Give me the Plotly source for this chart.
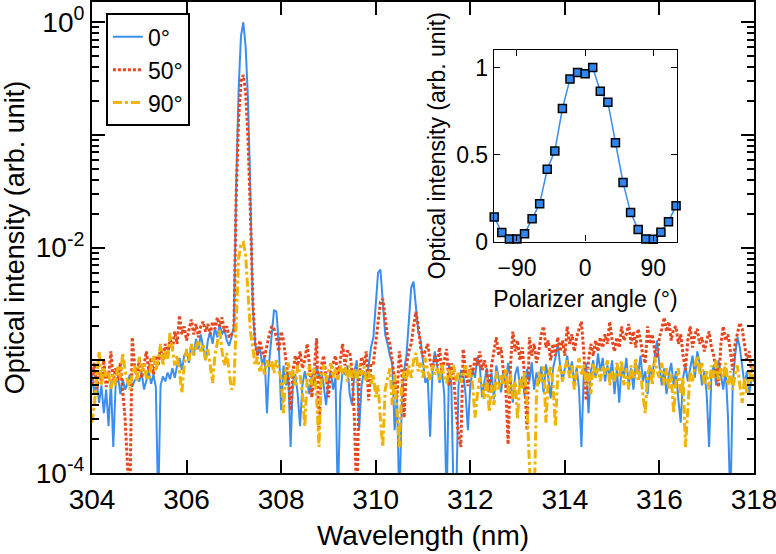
import plotly.graph_objects as go

# ---------------- data ----------------
# Spectra sampled every 0.05 nm from 304 to 318 nm; intensities given in units of 1e-4 (arb. unit)
WL_START, WL_STEP, N_PTS = 304.0, 0.05, 281
wavelength = [round(WL_START + WL_STEP * i, 2) for i in range(N_PTS)]
UNIT = 1e-4

blue_0deg = [
    7.5, 5.0, 6.5, 4.2, 6.0, 3.4, 5.5, 2.6, 6.5, 1.7, 6.0, 7.2, 5.0, 6.8, 5.5, 6.2, 7.5, 5.8, 6.6, 7.0,
    6.5, 7.8, 5.5, 6.8, 8.0, 6.2, 7.5, 5.8, 0.5, 6.0, 7.2, 6.5, 7.8, 6.8, 8.5, 7.0, 9.0, 10.5, 8.2, 11.0,
    12.0, 9.5, 14.0, 11.0, 15.5, 12.5, 17.0, 13.0, 10.0, 15.0, 18.0, 14.0, 19.5, 16.0, 21.0, 17.0, 19.0, 15.0, 13.5, 16.0,
    20, 350, 2500, 7500, 10000, 6000, 2000, 300, 30,
    14, 11, 13, 9, 11, 3.4, 10, 16, 28, 27, 14, 3.6, 9, 6, 8, 1.7, 6.5, 7.5, 5, 2.6, 6, 8, 6.5, 5, 7.5, 6,
    9, 7, 8, 6, 4, 6.5, 8, 5.5, 7, 0.5, 5, 8, 7.5, 9, 5, 4,
    8, 10, 2.4, 6, 8, 6.7, 9, 13, 16, 32, 60, 64, 35, 17, 14, 11, 9.4, 2.4, 5, 0.5, 4, 8.2, 11, 20, 44, 50,
    32, 18, 15, 9, 6.3, 7, 2.1, 8, 12, 9, 6.3, 8, 5, 0.5, 9.4, 6, 0.5, 0.5, 6, 8, 7.7, 5, 2.4, 6, 8.2, 7,
    10.7, 9, 4.7,
    6.5, 8.5, 5.5, 7.8, 4.5, 9, 7, 5.2, 8, 6, 9.5, 6.8, 4.2, 7.5, 8.8, 5.8, 7.2, 4.8, 8.4, 6.5, 9.6, 5.5,
    7.8, 6.2, 8.8, 5.2, 9.2, 7, 4.6, 8.5, 10.5, 14, 9, 6.5, 8.5, 11, 7.5, 9.8, 6, 8.8, 5.5, 1.7, 7.5, 9.5,
    3.4, 8, 10, 7, 11.5, 8, 10.5, 6.5, 9, 7.2, 10,
    5, 8.5, 4.2, 9, 7, 10.5, 6, 8.5, 5.5, 9.5, 7.5, 11, 6.5, 8, 5, 9, 7, 11, 15, 9, 6, 8.5, 5, 7.5, 9.5,
    6, 8, 4.5, 2.8, 7, 9, 6.5, 8.5, 11, 7, 12, 9.5, 6, 8, 5, 1.7, 7.5, 9, 6, 10, 7.5, 5.5, 8.5, 3.1, 0.5,
    6, 11, 16, 13, 9, 6, 8, 5, 7, 6.5,
]

red_50deg = [
    6, 9.5, 5.5, 8, 6.5, 10, 5.8, 7.1, 12, 6.5, 8.5, 6.7, 9.5, 5, 3, 1.2, 0.5, 16, 9, 7.5,
    10, 7, 9.4, 12, 8, 10.5, 7.5, 11, 9, 13, 10, 14, 11, 16, 12.5, 18, 14, 25, 17, 20,
    15, 19, 23, 17, 21, 16, 20, 22, 18, 21, 17, 22, 19, 24, 20, 24, 18, 20, 16, 17,
    18, 300, 1400, 3000, 3400, 2400, 900, 200, 35,
    14, 11, 15, 12, 10.7, 14, 17, 20, 19, 16, 12, 18, 15, 10, 7, 3.6, 8, 11, 9, 12, 8.5, 10, 14, 9, 4.7,
    8, 15.7, 2.4, 9, 11, 7, 4.7, 8, 9.4, 11, 7, 10, 14, 9, 12, 12, 8,
    3, 0.5, 7, 10.7, 9, 12, 4.4, 9.4, 9.4, 14, 20, 33, 35, 22, 16, 14, 10, 7, 4.7, 12, 8, 3.1, 9, 12, 14,
    20, 27, 20, 13, 10.7, 12, 14, 10, 8.2, 11, 9, 13, 8, 10, 12.6, 5.9, 9.4, 7, 3.5, 2.2, 1.7, 12.6, 8,
    5.9, 9, 7.5, 10.7, 9, 12, 8.2,
    10, 8, 5.1, 9, 12, 16, 11, 13, 8, 6, 1.8, 9, 18, 12, 15, 10, 13, 7, 2.4, 16, 11, 14, 9.5, 12, 17,
    20, 13, 15, 10, 14, 11, 16, 12, 15, 11, 20, 14, 17, 12, 16, 19, 22, 12, 4.4, 10, 14, 11, 15, 12, 16,
    13, 17, 14, 22, 15,
    12, 16, 13, 20, 15, 17, 21, 14, 18, 13, 19, 15, 11, 9.4, 20, 14, 17, 12, 10.5, 16, 19, 24, 18, 22, 15,
    19, 20, 14, 17, 11, 8.2, 15, 20, 13, 17, 19, 14, 16, 12, 15, 18, 13, 11, 8, 5.8, 14, 20, 15, 17, 12,
    8.2, 14, 18, 21.5, 19, 13, 10, 12, 7.7, 9,
]

yellow_90deg = [
    2.8, 4, 7, 12, 6, 8.8, 7, 8, 5.5, 7.5, 6, 9, 7, 11.6, 8, 6.5, 5.5, 7.5, 9, 6.5,
    10.7, 8, 9.5, 7, 6.7, 9, 11, 8, 10, 14, 9, 12, 10, 17.5, 13, 9, 11, 8, 5.1, 9,
    12.6, 10, 14, 11, 13, 15, 12, 14, 10, 12.5, 9, 6.3, 11, 14, 18.6, 12, 9, 11.6, 7.5, 5.5,
    6, 25, 80, 108, 111, 85, 40, 18, 13,
    9, 10.7, 8, 9.5, 7.5, 10, 8.5, 9.8, 7.7, 10, 8, 7, 3.4, 8.5, 9.5, 7, 8.2, 6, 9, 7.5, 5, 2.6, 7, 9, 6,
    8.5, 4.7, 1.7, 7.5, 9, 6.5, 8, 9.4, 7, 8.5, 6.7, 9, 7.5, 8.8, 6.5, 9,
    7, 8.5, 6.3, 9, 7.5, 8.8, 6.5, 8, 6, 7.5, 4.7, 6, 3, 1.7, 5.5, 7, 8.5, 4, 7.5, 3.5, 1.7, 6, 8, 6.7, 9,
    7, 10, 11.6, 8, 9.5, 7, 10.5, 8, 6.7, 9, 7.5, 8.5, 6.5, 9.4, 7, 6.3, 8.5, 7, 9, 6.5, 8, 6.3, 7.5, 9, 7,
    8.2, 6, 3.1, 5, 7, 5.9,
    4.5, 7, 3.5, 6, 4, 8, 5.5, 7.5, 6, 8.5, 5, 7.5, 4.5, 6.5, 3, 7, 5.5, 8, 4, 1.2, 0.5, 0.5, 5, 8, 6.5,
    8.8, 2.8, 7, 9, 6, 2.6, 7.5, 9, 6.5, 8.5, 10, 7, 9, 5.5, 8, 10.5, 7.5, 9, 6, 8.5, 5, 9.5, 7, 8.5, 6.5,
    9, 7.5, 10, 6, 8,
    6.5, 9.5, 7, 10, 6, 8.5, 5.5, 9, 7, 10.5, 6.5, 8, 5, 3.4, 7.5, 9, 6, 10.7, 8, 7, 9.5, 6, 8.5, 5.5, 7.5,
    3.4, 6.5, 8.5, 5, 7, 1.7, 4, 8, 6.5, 9, 11, 7.5, 9.5, 6, 8, 5.5, 9, 7, 10, 6.5, 8.5, 7, 9.5, 6, 8,
    5.5, 7.5, 9, 6, 4.2, 7, 5, 8, 6.5, 9,
]

series_names = ["0°", "50°", "90°"]

# Inset: polarizer dependence
polarizer_angle = [-120, -110, -100, -90, -80, -70, -60, -50, -40, -30, -20, -10, 0,
                   10, 20, 30, 40, 50, 60, 70, 80, 90, 100, 110, 120]
inset_intensity = [0.141, 0.051, 0.015, 0.015, 0.044, 0.13, 0.217, 0.415, 0.52, 0.764,
                   0.933, 0.971, 0.964, 1.0, 0.863, 0.8, 0.568, 0.339, 0.166, 0.069,
                   0.015, 0.013, 0.053, 0.114, 0.206]

x_ticks = [304, 306, 308, 310, 312, 314, 316, 318]
y_labeled = [1e-4, 1e-2, 1.0]
y_labeled_text = ["10<sup>-4</sup>", "10<sup>-2</sup>", "10<sup>0</sup>"]
y_unlabeled_decades = [1e-3, 1e-1]
inset_x_ticks = [-90, 0, 90]
inset_y_ticks = [0, 0.5, 1]
inset_y_text = ["0", "0.5", "1"]

for s in (blue_0deg, red_50deg, yellow_90deg):
    assert len(s) == N_PTS, len(s)

# ---------------- figure ----------------
FONT = "Liberation Sans, Arial, sans-serif"
BLUE, RED, YELLOW = "#3a8ef0", "#e8461c", "#f0b300"
Y_RANGE = [-4, 0.18]

fig = go.Figure()
styles = [
    dict(color=BLUE, width=2, dash="solid"),
    dict(color=RED, width=3, dash="3px,2px"),
    dict(color=YELLOW, width=3, dash="dashdot"),
]
for name, vals, st in zip(series_names, (blue_0deg, red_50deg, yellow_90deg), styles):
    fig.add_trace(go.Scatter(
        x=wavelength, y=[v * UNIT for v in vals], mode="lines", name=name,
        line=st, xaxis="x", yaxis="y",
    ))

# empty helper traces so the overlay tick axes are drawn
for ya in ("y3", "y4"):
    fig.add_trace(go.Scatter(x=[None], y=[None], xaxis="x", yaxis=ya,
                             showlegend=False, hoverinfo="skip"))

fig.add_trace(go.Scatter(
    x=polarizer_angle, y=inset_intensity, mode="lines+markers", showlegend=False,
    line=dict(color=BLUE, width=1.5),
    marker=dict(symbol="square", size=8, color="#2f86ee", line=dict(color="black", width=1.5)),
    xaxis="x2", yaxis="y2", cliponaxis=False,
))

minor_vals = [m * 10.0 ** k for k in range(-4, 1) for m in range(2, 10)]

tick_common = dict(tickcolor="black", showgrid=False, zeroline=False, automargin=False)

fig.update_layout(
    width=776, height=554,
    margin=dict(l=92, r=22, t=2, b=81),
    paper_bgcolor="white", plot_bgcolor="white",
    font=dict(family=FONT, size=28, color="black"),
    showlegend=True,
    legend=dict(
        x=0.021, y=0.976, xanchor="left", yanchor="top",
        bgcolor="white", bordercolor="black", borderwidth=2,
        font=dict(size=23, family=FONT, color="black"),
        itemwidth=30, tracegroupgap=0,
    ),
    xaxis=dict(
        domain=[0, 1], range=[304, 318], tickmode="array", tickvals=x_ticks,
        ticks="inside", ticklen=13, tickwidth=2,
        showline=True, linewidth=2, linecolor="black", mirror="ticks",
        ticklabeloverflow="allow",
        title=dict(text="Wavelength (nm)", font=dict(size=28), standoff=12),
        tickfont=dict(size=28), **tick_common,
    ),
    yaxis=dict(
        domain=[0, 1], type="log", range=Y_RANGE,
        tickmode="array", tickvals=y_labeled, ticktext=y_labeled_text,
        ticks="inside", ticklen=13, tickwidth=2,
        showline=True, linewidth=2, linecolor="black", mirror="ticks",
        ticklabeloverflow="allow",
        title=dict(text="Optical intensity (arb. unit)", font=dict(size=27), standoff=8),
        tickfont=dict(size=28), **tick_common,
    ),
    yaxis3=dict(
        overlaying="y", side="left", anchor="x", type="log", range=Y_RANGE,
        tickmode="array", tickvals=y_unlabeled_decades, showticklabels=False,
        ticks="inside", ticklen=13, tickwidth=2, showline=False, mirror="ticks",
        **tick_common,
    ),
    yaxis4=dict(
        overlaying="y", side="left", anchor="x", type="log", range=Y_RANGE,
        tickmode="array", tickvals=minor_vals, showticklabels=False,
        ticks="inside", ticklen=7, tickwidth=2, showline=False, mirror="ticks",
        **tick_common,
    ),
    xaxis2=dict(
        domain=[0.607, 0.884], anchor="y2", range=[-120.5, 121.5],
        tickmode="array", tickvals=inset_x_ticks,
        ticks="inside", ticklen=6, tickwidth=1.2,
        showline=True, linewidth=1.2, linecolor="black", mirror="ticks",
        ticklabelstandoff=6,
        title=dict(text="Polarizer angle (°)", font=dict(size=23), standoff=10),
        tickfont=dict(size=23), **tick_common,
    ),
    yaxis2=dict(
        domain=[0.4915, 0.898], anchor="x2", range=[0, 1.1],
        tickmode="array", tickvals=inset_y_ticks, ticktext=inset_y_text,
        ticks="inside", ticklen=6, tickwidth=1.2,
        showline=True, linewidth=1.2, linecolor="black", mirror="ticks",
        title=dict(text="Optical intensity (arb. unit)", font=dict(size=23), standoff=4),
        tickfont=dict(size=23), **tick_common,
    ),
)

# remove the browser's default 8px page margin so the 776x554 figure fills the window exactly
fig.write_html("out.html", config={"displayModeBar": False},
               post_script="document.body.style.margin='0';")
